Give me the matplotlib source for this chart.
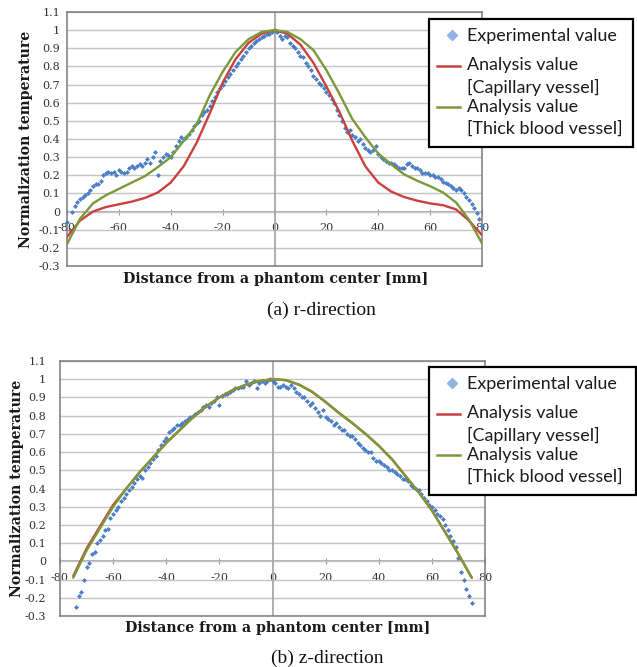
import matplotlib
matplotlib.use('Agg')
import matplotlib.pyplot as plt
from matplotlib.lines import Line2D
from matplotlib.patches import Rectangle

W, H = 637, 667

# ---------------- data ----------------
x_tick_values = [-80, -60, -40, -20, 0, 20, 40, 60, 80]
x_tick_labels = ['-80', '-60', '-40', '-20', '0', '20', '40', '60', '80']
y_tick_values = [-0.3, -0.2, -0.1, 0.0, 0.1, 0.2, 0.3, 0.4, 0.5, 0.6, 0.7, 0.8, 0.9, 1.0, 1.1]
y_tick_labels = ['-0.3', '-0.2', '-0.1', '0', '0.1', '0.2', '0.3', '0.4', '0.5',
                 '0.6', '0.7', '0.8', '0.9', '1', '1.1']

legend_labels = ['Experimental value', 'Analysis value', '[Capillary vessel]',
                 'Analysis value', '[Thick blood vessel]']
captions = ['(a) r-direction', '(b) z-direction']
x_label = 'Distance from a phantom center [mm]'
y_label = 'Normalization temperature'

# (a) r-direction
r_exp_x = list(range(-80, 81))
r_exp_y = [
    -0.06, -0.10, 0.00, 0.03, 0.05, 0.07, 0.08, 0.09, 0.10, 0.12,   # -80..-71
    0.14, 0.15, 0.15, 0.17, 0.20, 0.21, 0.22, 0.21, 0.22, 0.20,     # -70..-61
    0.23, 0.22, 0.21, 0.22, 0.24, 0.25, 0.24, 0.25, 0.26, 0.25,     # -60..-51
    0.27, 0.29, 0.27, 0.30, 0.33, 0.20, 0.28, 0.30, 0.32, 0.31,     # -50..-41
    0.30, 0.33, 0.36, 0.39, 0.41, 0.40, 0.41, 0.43, 0.45, 0.47,     # -40..-31
    0.49, 0.50, 0.53, 0.55, 0.56, 0.58, 0.61, 0.63, 0.66, 0.68,     # -30..-21
    0.70, 0.72, 0.74, 0.76, 0.78, 0.80, 0.82, 0.84, 0.86, 0.88,     # -20..-11
    0.90, 0.91, 0.93, 0.94, 0.95, 0.96, 0.97, 0.98, 0.98, 0.99,     # -10..-1
    1.00,                                                           # 0
    0.99, 0.97, 0.95, 0.97, 0.96, 0.93, 0.91, 0.90, 0.88, 0.86,     # 1..10
    0.85, 0.82, 0.80, 0.78, 0.75, 0.73, 0.71, 0.70, 0.68, 0.66,     # 11..20
    0.64, 0.62, 0.60, 0.56, 0.53, 0.50, 0.46, 0.44, 0.45, 0.42,     # 21..30
    0.41, 0.39, 0.40, 0.37, 0.35, 0.34, 0.33, 0.34, 0.36, 0.32,     # 31..40
    0.30, 0.29, 0.28, 0.27, 0.27, 0.26, 0.25, 0.24, 0.24, 0.24,     # 41..50
    0.26, 0.27, 0.25, 0.24, 0.24, 0.23, 0.21, 0.21, 0.21, 0.20,     # 51..60
    0.20, 0.19, 0.19, 0.18, 0.165, 0.16, 0.15, 0.14, 0.13, 0.12,    # 61..70
    0.13, 0.12, 0.10, 0.08, 0.065, 0.04, 0.02, -0.01, -0.04, -0.08  # 71..80
]
r_model_x = list(range(-80, 81, 5))
r_capillary = [-0.14, -0.05, 0.00, 0.025, 0.04, 0.055, 0.075, 0.105, 0.16, 0.25,
               0.38, 0.54, 0.71, 0.84, 0.93, 0.98, 1.00, 0.98, 0.92, 0.82,
               0.69, 0.55, 0.39, 0.25, 0.16, 0.11, 0.08, 0.06, 0.045, 0.035,
               0.012, -0.05, -0.13]
r_thick = [-0.18, -0.04, 0.045, 0.09, 0.125, 0.16, 0.195, 0.245, 0.30, 0.39,
           0.48, 0.64, 0.77, 0.88, 0.95, 0.99, 1.00, 0.99, 0.95, 0.89,
           0.78, 0.65, 0.51, 0.41, 0.32, 0.26, 0.205, 0.17, 0.14, 0.105,
           0.05, -0.045, -0.175]

# (b) z-direction
z_exp_x = list(range(-74, 76))
z_exp_y = [
    -0.25, -0.19, -0.17, -0.10, -0.03, -0.01,                       # -74..-69
    0.04, 0.05, 0.10, 0.12, 0.14, 0.17, 0.18, 0.24,                 # -68..-61
    0.26, 0.28, 0.30, 0.33, 0.35, 0.37, 0.39, 0.41, 0.43, 0.45,     # -60..-51
    0.47, 0.46, 0.50, 0.52, 0.54, 0.56, 0.58, 0.61, 0.64, 0.66,     # -50..-41
    0.68, 0.71, 0.72, 0.73, 0.75, 0.75, 0.76, 0.77, 0.78, 0.79,     # -40..-31
    0.80, 0.81, 0.82, 0.83, 0.85, 0.86, 0.85, 0.87, 0.88, 0.90,     # -30..-21
    0.86, 0.91, 0.92, 0.92, 0.93, 0.94, 0.95, 0.95, 0.96, 0.96,     # -20..-11
    0.99, 0.97, 0.98, 0.99, 0.95, 0.98, 0.99, 0.98, 0.99, 1.00,     # -10..-1
    0.99,                                                           # 0
    0.98, 0.96, 0.96, 0.97, 0.96, 0.95, 0.97, 0.95, 0.93, 0.92,     # 1..10
    0.90, 0.90, 0.88, 0.86, 0.87, 0.84, 0.82, 0.80, 0.83, 0.79,     # 11..20
    0.78, 0.77, 0.75, 0.76, 0.74, 0.72, 0.72, 0.70, 0.69, 0.69,     # 21..30
    0.67, 0.65, 0.64, 0.62, 0.61, 0.60, 0.60, 0.57, 0.55, 0.55,     # 31..40
    0.54, 0.53, 0.52, 0.50, 0.50, 0.49, 0.48, 0.47, 0.45, 0.45,     # 41..50
    0.44, 0.42, 0.41, 0.40, 0.39, 0.37, 0.35, 0.33, 0.31, 0.30,     # 51..60
    0.28, 0.26, 0.25, 0.23, 0.20, 0.17, 0.14, 0.11, 0.08, 0.02,     # 61..70
    -0.06, -0.10, -0.15, -0.19, -0.23                               # 71..75
]
z_model_x = list(range(-75, 76, 5))
z_capillary = [-0.08, 0.07, 0.19, 0.31, 0.40, 0.49, 0.57, 0.65, 0.72, 0.79,
               0.85, 0.90, 0.94, 0.97, 0.99, 1.00, 0.995, 0.97, 0.93, 0.875,
               0.815, 0.76, 0.70, 0.635, 0.56, 0.47, 0.38, 0.28, 0.16, 0.04,
               -0.09]
z_thick = [-0.09, 0.06, 0.18, 0.30, 0.40, 0.49, 0.57, 0.65, 0.72, 0.79,
           0.85, 0.90, 0.94, 0.97, 0.99, 1.00, 0.995, 0.97, 0.93, 0.875,
           0.815, 0.76, 0.70, 0.635, 0.56, 0.47, 0.38, 0.28, 0.16, 0.04,
           -0.09]

# ---------------- style ----------------
C_EXP = '#4a7ec6'
C_EXP_LEG = '#8db4e2'
C_RED = '#c8413e'
C_GREEN = '#7a9a3a'
SERIF = 'DejaVu Serif'
TIMES = 'Liberation Serif'
SANS = 'Lato'
TICK_COLOR = '#333333'

fig = plt.figure(figsize=(W / 100, H / 100), dpi=100)
fig.patch.set_facecolor('white')


def fx(x):
    return x / W


def fy(y):
    return 1 - y / H


def make_axes(left, top, right, bottom, ex, ey, mx, cap, thick, ytick_pad):
    ax = fig.add_axes([fx(left), fy(bottom), fx(right - left), (bottom - top) / H])
    ax.set_xlim(-80, 80)
    ax.set_ylim(-0.3, 1.1)
    ax.set_yticks(y_tick_values)
    ax.set_yticklabels(y_tick_labels, fontfamily=SERIF, fontsize=8, color=TICK_COLOR)
    ax.tick_params(axis='y', length=0, pad=ytick_pad)
    ax.set_xticks([])
    ax.yaxis.grid(True, color='#c4c4c4', lw=1.0)
    ax.set_axisbelow(True)
    for sp in ax.spines.values():
        sp.set_color('#7a7a7a')
        sp.set_linewidth(1.1)
    ax.axvline(0, color='#a8a8a8', lw=1.3, zorder=1)
    # horizontal axis at y = 0
    lo, hi = ax.get_ylim()
    sec = ax.secondary_xaxis((0 - lo) / (hi - lo))
    sec.set_xticks(x_tick_values)
    sec.set_xticklabels(x_tick_labels, fontfamily=SERIF, fontsize=8, color=TICK_COLOR)
    sec.tick_params(direction='inout', length=4, color='#9a9a9a', pad=6.5)
    sec.spines['bottom'].set_color('#9a9a9a')
    sec.spines['bottom'].set_linewidth(1.1)
    # series
    ax.plot(ex, ey, linestyle='none', marker='D', ms=2.5, mfc=C_EXP, mec=C_EXP,
            mew=0, zorder=3, clip_on=False)
    ax.plot(mx, cap, color=C_RED, lw=1.7, zorder=4, solid_capstyle='round')
    ax.plot(mx, thick, color=C_GREEN, lw=1.7, zorder=5, solid_capstyle='round')
    return ax


def draw_legend(left, top, width, height):
    fig.add_artist(Rectangle((fx(left), fy(top + height)), width / W, height / H,
                             transform=fig.transFigure, fc='white', ec='black',
                             lw=1.6, zorder=20))
    fig.add_artist(Line2D([fx(left + 23)], [fy(top + 16)], marker='D', ms=5.5,
                          mfc=C_EXP_LEG, mec=C_EXP_LEG, linestyle='none',
                          transform=fig.transFigure, zorder=21))
    fig.add_artist(Line2D([fx(left + 8), fx(left + 31)], [fy(top + 47)] * 2,
                          color=C_RED, lw=1.8, transform=fig.transFigure, zorder=21))
    fig.add_artist(Line2D([fx(left + 8), fx(left + 31)], [fy(top + 88)] * 2,
                          color=C_GREEN, lw=1.8, transform=fig.transFigure, zorder=21))
    offs = [17.5, 46, 68.5, 88, 110]
    for lab, o in zip(legend_labels, offs):
        fig.text(fx(left + 38), fy(top + o), lab, fontfamily=SANS, fontsize=12.9,
                 color='#1a1a1a', va='center', ha='left', zorder=22)


LABEL_FS = 10.2

# top panel
make_axes(67, 12, 482, 266, r_exp_x, r_exp_y, r_model_x, r_capillary, r_thick, 5)
draw_legend(429, 19, 204, 128)
fig.text(fx(26), fy(139.5), y_label, rotation=90, fontfamily=SERIF, fontweight='bold',
         fontsize=LABEL_FS, ha='center', va='center', color='#1a1a1a')
fig.text(fx(275.5), fy(279), x_label, fontfamily=SERIF, fontweight='bold',
         fontsize=LABEL_FS, ha='center', va='center', color='#1a1a1a')
fig.text(fx(321), fy(310), captions[0], fontfamily=TIMES, fontsize=14,
         ha='center', va='center', color='#111111')

# bottom panel
make_axes(60, 361, 485, 616, z_exp_x, z_exp_y, z_model_x, z_capillary, z_thick, 10)
draw_legend(429, 367, 207, 128)
fig.text(fx(17.5), fy(488), y_label, rotation=90, fontfamily=SERIF, fontweight='bold',
         fontsize=LABEL_FS, ha='center', va='center', color='#1a1a1a')
fig.text(fx(278), fy(628), x_label, fontfamily=SERIF, fontweight='bold',
         fontsize=LABEL_FS, ha='center', va='center', color='#1a1a1a')
fig.text(fx(327), fy(658), captions[1], fontfamily=TIMES, fontsize=14,
         ha='center', va='center', color='#111111')

fig.savefig('out.png', dpi=100, facecolor='white')
